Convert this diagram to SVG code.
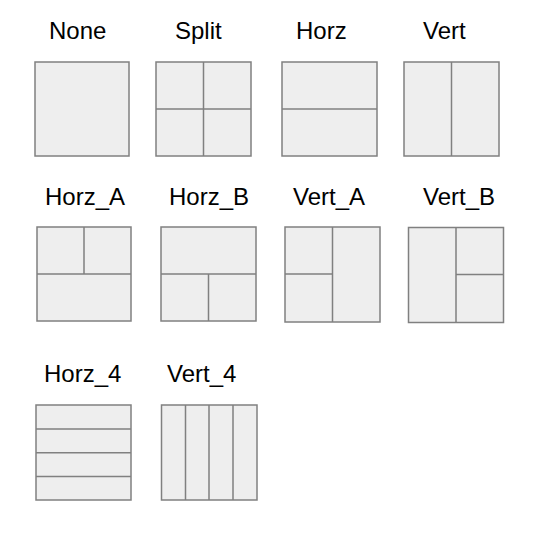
<svg xmlns="http://www.w3.org/2000/svg" width="534" height="534" viewBox="0 0 534 534">
<style>
.bg{fill:#ffffff}
.box{fill:#eeeeee;stroke:#808080;stroke-width:1.5}
.div{fill:none;stroke:#808080;stroke-width:1.5}
.lbl{font-family:"Liberation Sans",Arial,sans-serif;font-size:24px;fill:#000000}
</style>
<rect class="bg" x="0" y="0" width="534" height="534"/>
<g id="none">
<text class="lbl" x="49" y="39">None</text>
<rect class="box" x="35" y="62" width="94" height="94"/>
</g>
<g id="split">
<text class="lbl" x="175" y="39">Split</text>
<rect class="box" x="156" y="62" width="95" height="94"/>
<path class="div" d="M203.5 62V156M156 109H251"/>
</g>
<g id="horz">
<text class="lbl" x="296" y="39">Horz</text>
<rect class="box" x="282" y="62" width="95" height="94"/>
<path class="div" d="M282 109H377"/>
</g>
<g id="vert">
<text class="lbl" x="423" y="39">Vert</text>
<rect class="box" x="404" y="62" width="95" height="94"/>
<path class="div" d="M451.5 62V156"/>
</g>
<g id="horz_a">
<text class="lbl" x="45" y="205">Horz_A</text>
<rect class="box" x="37" y="227" width="94" height="94"/>
<path class="div" d="M37 274H131M84 227V274"/>
</g>
<g id="horz_b">
<text class="lbl" x="169" y="205">Horz_B</text>
<rect class="box" x="161" y="227" width="95" height="94"/>
<path class="div" d="M161 274H256M208.5 274V321"/>
</g>
<g id="vert_a">
<text class="lbl" x="293" y="205">Vert_A</text>
<rect class="box" x="285" y="227" width="95" height="95"/>
<path class="div" d="M332.5 227V322M285 274H332.5"/>
</g>
<g id="vert_b">
<text class="lbl" x="423" y="205">Vert_B</text>
<rect class="box" x="408.5" y="227.5" width="95" height="95"/>
<path class="div" d="M456 227.5V322.5M456 274.5H503.5"/>
</g>
<g id="horz_4">
<text class="lbl" x="44" y="382">Horz_4</text>
<rect class="box" x="36" y="405" width="95" height="95"/>
<path class="div" d="M36 429H131M36 452.7H131M36 476.5H131"/>
</g>
<g id="vert_4">
<text class="lbl" x="167" y="382">Vert_4</text>
<rect class="box" x="161.5" y="405" width="95.5" height="95"/>
<path class="div" d="M185.5 405V500M209 405V500M233 405V500"/>
</g>
<g id="connectors"/>
</svg>
